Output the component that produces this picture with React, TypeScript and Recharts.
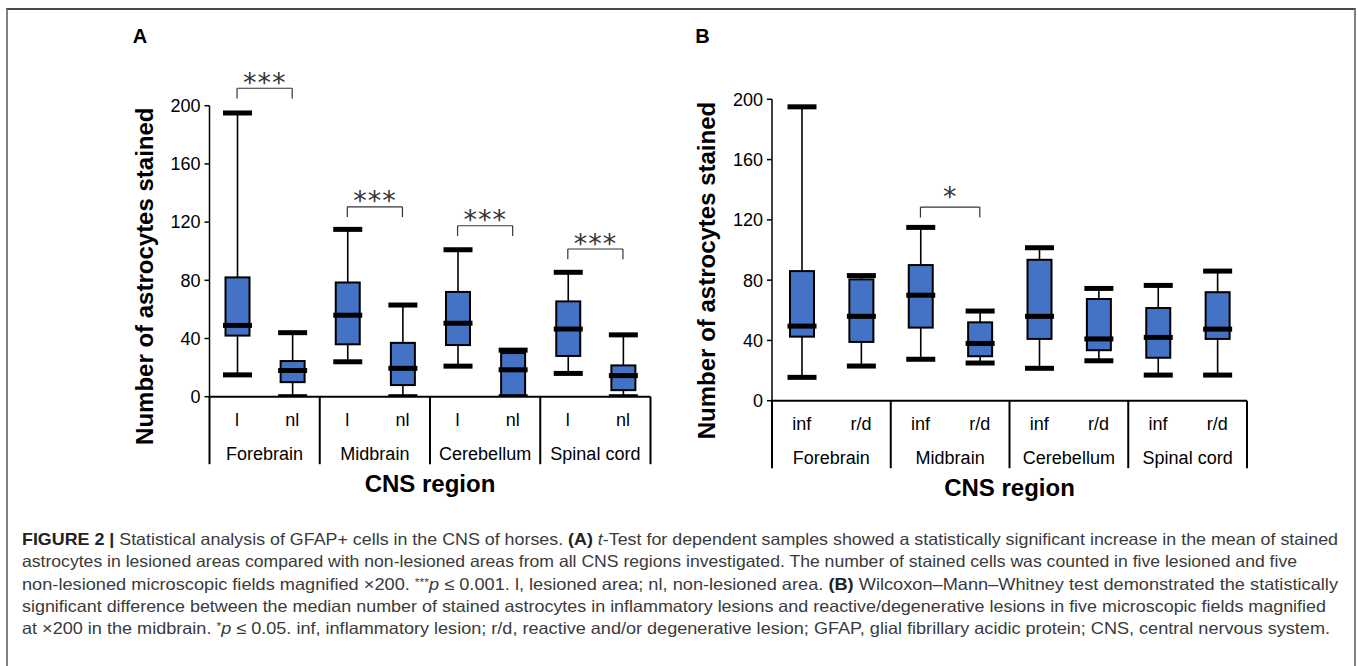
import React from 'react';
import { ComposedChart, Bar, XAxis, YAxis, ReferenceLine } from 'recharts';

// ---------- data ----------
const regions = ['Forebrain', 'Midbrain', 'Cerebellum', 'Spinal cord'];
const groupsA = ['l', 'nl'];
const groupsB = ['inf', 'r/d'];
const yTicks = [0, 40, 80, 120, 160, 200];

// Panel A (order: Forebrain l, nl, Midbrain l, nl, Cerebellum l, nl, Spinal cord l, nl)
const minA = [15, 0, 24, 0, 21, 0, 16, 0];
const q1A = [42, 10, 36, 8, 35.5, 0, 28, 4.5];
const medA = [49, 18, 56, 19.5, 50.5, 18.5, 46.5, 14.5];
const q3A = [82, 24.5, 78.5, 37, 72, 30, 65.5, 21.5];
const maxA = [195, 44, 115, 63, 101, 32, 85.5, 42.5];

// Panel B (order: Forebrain inf, r/d, Midbrain inf, r/d, Cerebellum inf, r/d, Spinal cord inf, r/d)
const minB = [15.5, 23, 27.5, 25, 21.5, 26.5, 17, 17];
const q1B = [42.5, 39, 48.5, 29.5, 41, 33.5, 28.5, 41];
const medB = [49.5, 56, 70, 38, 56, 41, 42, 47.5];
const q3B = [86, 80.5, 90, 52, 93.5, 67.5, 61.5, 72];
const maxB = [195, 83, 115, 59.5, 101.5, 74.5, 76.5, 86];

// significance brackets (per region)
const sigLabelsA = ['***', '***', '***', '***'];
const sigHeightsA = [212, 130.5, 117.5, 101.5];
const sigLabelsB = ['', '*', '', ''];
const sigHeightsB = [0, 128.5, 0, 0];
const bracketDrop = 7;

const FONT = "'Liberation Sans', Arial, sans-serif";
const BLUE = '#4472C4';

function buildRows(groups: string[], mn: number[], q1: number[], md: number[], q3: number[], mx: number[]) {
  const rows: any[] = [];
  regions.forEach((r, ri) => {
    groups.forEach((g, gi) => {
      const i = ri * groups.length + gi;
      rows.push({ key: r + '|' + g, region: r, group: g, min: mn[i], q1: q1[i], med: md[i], q3: q3[i], max: mx[i] });
    });
  });
  return rows;
}

const rowsA = buildRows(groupsA, minA, q1A, medA, q3A, maxA);
const rowsB = buildRows(groupsB, minB, q1B, medB, q3B, maxB);

const BoxShape = (props: any) => {
  const { x, y, width, height, payload } = props;
  if (payload == null || height == null) return null;
  const { min, q1, med, q3, max } = payload;
  const k = max > min ? height / (max - min) : 0;
  const py = (v: number) => y + (max - v) * k;
  const cx = x + width / 2;
  const capW = width + 5;
  const thick = 5;
  return (
    <g>
      <line x1={cx} x2={cx} y1={py(max)} y2={py(min)} stroke="#000" strokeWidth={1.6} />
      <rect x={x} y={py(q3)} width={width} height={Math.max(0, py(q1) - py(q3))} fill={BLUE} stroke="#000" strokeWidth={2} />
      <rect x={cx - capW / 2} y={py(max) - thick / 2} width={capW} height={thick} fill="#000" />
      <rect x={cx - capW / 2} y={py(min) - thick / 2} width={capW} height={thick} fill="#000" />
      <rect x={cx - capW / 2} y={py(med) - thick / 2} width={capW} height={thick} fill="#000" />
    </g>
  );
};

const CatTick = (props: any) => {
  const { x, y, payload, band, n, index } = props;
  const parts = String(payload.value).split('|');
  const region = parts[0];
  const group = parts[1];
  const i = typeof index === 'number' ? index : payload.index;
  const first = i % 2 === 0;
  return (
    <g>
      <text x={x} y={y + 22.5} dy="0.36em" textAnchor="middle" fontSize={18} fontFamily={FONT} fill="#000">{group}</text>
      {first && (
        <text x={x + band / 2} y={y + 56.5} dy="0.36em" textAnchor="middle" fontSize={18} fontFamily={FONT} fill="#000">{region}</text>
      )}
      {first && <line x1={x - band / 2} x2={x - band / 2} y1={y} y2={y + 67.5} stroke="#000" strokeWidth={2} />}
      {i === n - 1 && <line x1={x + band / 2} x2={x + band / 2} y1={y} y2={y + 67.5} stroke="#000" strokeWidth={2} />}
    </g>
  );
};

type PanelProps = {
  rows: any[];
  groups: string[];
  sigLabels: string[];
  sigHeights: number[];
  width: number;
  height: number;
  margin: { top: number; right: number; bottom: number; left: number };
  yAxisWidth: number;
  yTitleDy: number;
  starGap: number;
};

const Panel = ({ rows, groups, sigLabels, sigHeights, width, height, margin, yAxisWidth, yTitleDy, starGap }: PanelProps) => {
  const plotW = width - margin.left - margin.right - yAxisWidth;
  const band = plotW / rows.length;
  return (
    <ComposedChart width={width} height={height} data={rows} margin={margin}>
      <XAxis
        dataKey="key"
        type="category"
        interval={0}
        tickLine={false}
        tickSize={0}
        tickMargin={0}
        height={100}
        axisLine={{ stroke: '#000', strokeWidth: 2 }}
        tick={(p: any) => <CatTick {...p} band={band} n={rows.length} />}
        label={(p: any) => {
          const vb = p.viewBox || {};
          return (
            <text x={vb.x + vb.width / 2} y={vb.y + 86.5} dy="0.36em" textAnchor="middle" fontSize={24} fontWeight="bold" fontFamily={FONT} fill="#000">
              CNS region
            </text>
          );
        }}
      />
      <YAxis
        type="number"
        domain={[0, 200]}
        ticks={yTicks}
        interval={0}
        width={yAxisWidth}
        tickSize={5}
        tickMargin={4}
        tickLine={{ stroke: '#000', strokeWidth: 1.5 }}
        axisLine={{ stroke: '#000', strokeWidth: 1.5 }}
        tick={{ fontSize: 18, fill: '#000', fontFamily: FONT }}
        allowDataOverflow
        label={(p: any) => {
          const vb = p.viewBox || {};
          const cx = vb.x + vb.width - 65.5;
          const cy = vb.y + vb.height / 2 + yTitleDy;
          return (
            <text x={cx} y={cy} dy="0.36em" textAnchor="middle" transform={`rotate(-90 ${cx} ${cy})`} fontSize={24} fontWeight="bold" fontFamily={FONT} fill="#000">
              Number of astrocytes stained
            </text>
          );
        }}
      />
      <Bar dataKey={(d: any) => [d.min, d.max]} barSize={24} shape={BoxShape} isAnimationActive={false} />
      {regions.map((r, i) =>
        sigLabels[i] ? (
          <ReferenceLine
            key={'t' + r}
            segment={[{ x: r + '|' + groups[0], y: sigHeights[i] }, { x: r + '|' + groups[1], y: sigHeights[i] }]}
            stroke="#333"
            strokeWidth={1.2}
            ifOverflow="visible"
            label={(p: any) => {
              const vb = p.viewBox || {};
              return (
                <text x={vb.x + vb.width / 2} y={vb.y + starGap} textAnchor="middle" fontSize={27} letterSpacing={1} fontFamily="'DejaVu Sans', sans-serif" fill="#333">
                  {sigLabels[i]}
                </text>
              );
            }}
          />
        ) : null
      )}
      {regions.map((r, i) =>
        sigLabels[i]
          ? groups.map((g) => (
              <ReferenceLine
                key={'l' + r + g}
                segment={[{ x: r + '|' + g, y: sigHeights[i] }, { x: r + '|' + g, y: sigHeights[i] - bracketDrop }]}
                stroke="#333"
                strokeWidth={1.2}
                ifOverflow="visible"
              />
            ))
          : null
      )}
    </ComposedChart>
  );
};

const captionLines = [
  { w: 1316, parts: [['b', 'FIGURE 2 | '], ['n', 'Statistical analysis of GFAP+ cells in the CNS of horses. '], ['b', '(A)'], ['n', ' '], ['i', 't'], ['n', '-Test for dependent samples showed a statistically significant increase in the mean of stained']] },
  { w: 1275, parts: [['n', 'astrocytes in lesioned areas compared with non-lesioned areas from all CNS regions investigated. The number of stained cells was counted in five lesioned and five']] },
  { w: 1316, parts: [['n', 'non-lesioned microscopic fields magnified \u00d7200. '], ['s', '***'], ['i', 'p'], ['n', ' \u2264 0.001. l, lesioned area; nl, non-lesioned area. '], ['b', '(B)'], ['n', ' Wilcoxon\u2013Mann\u2013Whitney test demonstrated the statistically']] },
  { w: 1304, parts: [['n', 'significant difference between the median number of stained astrocytes in inflammatory lesions and reactive/degenerative lesions in five microscopic fields magnified']] },
  { w: 1308, parts: [['n', 'at \u00d7200 in the midbrain. '], ['s', '*'], ['i', 'p'], ['n', ' \u2264 0.05. inf, inflammatory lesion; r/d, reactive and/or degenerative lesion; GFAP, glial fibrillary acidic protein; CNS, central nervous system.']] },
];
const captionBaselines = [545, 567, 589.5, 611.5, 633.5];

const Caption = () => (
  <svg width={1358} height={666} style={{ position: 'absolute', left: 0, top: 0, pointerEvents: 'none' }}>
    <text x={140} y={36} dy="0.36em" textAnchor="middle" fontSize={20} fontWeight="bold" fontFamily={FONT} fill="#000">A</text>
    <text x={702.5} y={36} dy="0.36em" textAnchor="middle" fontSize={20} fontWeight="bold" fontFamily={FONT} fill="#000">B</text>
    {captionLines.map((ln, li) => (
      <text key={li} x={22} y={captionBaselines[li]} fontSize={16.5} fontFamily={FONT} fill="#3a3a3a" textLength={ln.w} lengthAdjust="spacingAndGlyphs">
        {ln.parts.map((p, pi) => {
          const [t, s] = p;
          if (t === 'b') return <tspan key={pi} fontWeight="bold" fill="#222">{s}</tspan>;
          if (t === 'i') return <tspan key={pi} fontStyle="italic" dy={li === 0 ? 0 : 4}>{s}</tspan>;
          if (t === 's') return <tspan key={pi} fontSize={11} dy={-4}>{s}</tspan>;
          return <tspan key={pi}>{s}</tspan>;
        })}
      </text>
    ))}
  </svg>
);

export default function App() {
  return (
    <div style={{ position: 'absolute', left: 0, top: 0, width: 1358, height: 666, overflow: 'hidden', background: '#fff' }}>
      <div style={{ position: 'absolute', left: 6, top: 8, width: 1346, height: 700, borderTop: '2px solid #4a4a4a', borderLeft: '2px solid #808080', borderRight: '2px solid #808080' }} />
      <div style={{ position: 'absolute', left: 0, top: 0 }}>
        <Panel
          rows={rowsA}
          groups={groupsA}
          sigLabels={sigLabelsA}
          sigHeights={sigHeightsA}
          width={680}
          height={510}
          margin={{ top: 105.7, right: 29.5, bottom: 13.3, left: 20 }}
          yAxisWidth={189.5}
          yTitleDy={25}
          starGap={3.5}
        />
      </div>
      <div style={{ position: 'absolute', left: 680, top: 0 }}>
        <Panel
          rows={rowsB}
          groups={groupsB}
          sigLabels={sigLabelsB}
          sigHeights={sigHeightsB}
          width={678}
          height={510}
          margin={{ top: 99.3, right: 111, bottom: 9.3, left: 20 }}
          yAxisWidth={72}
          yTitleDy={20.5}
          starGap={-1.5}
        />
      </div>
      <Caption />
    </div>
  );
}
